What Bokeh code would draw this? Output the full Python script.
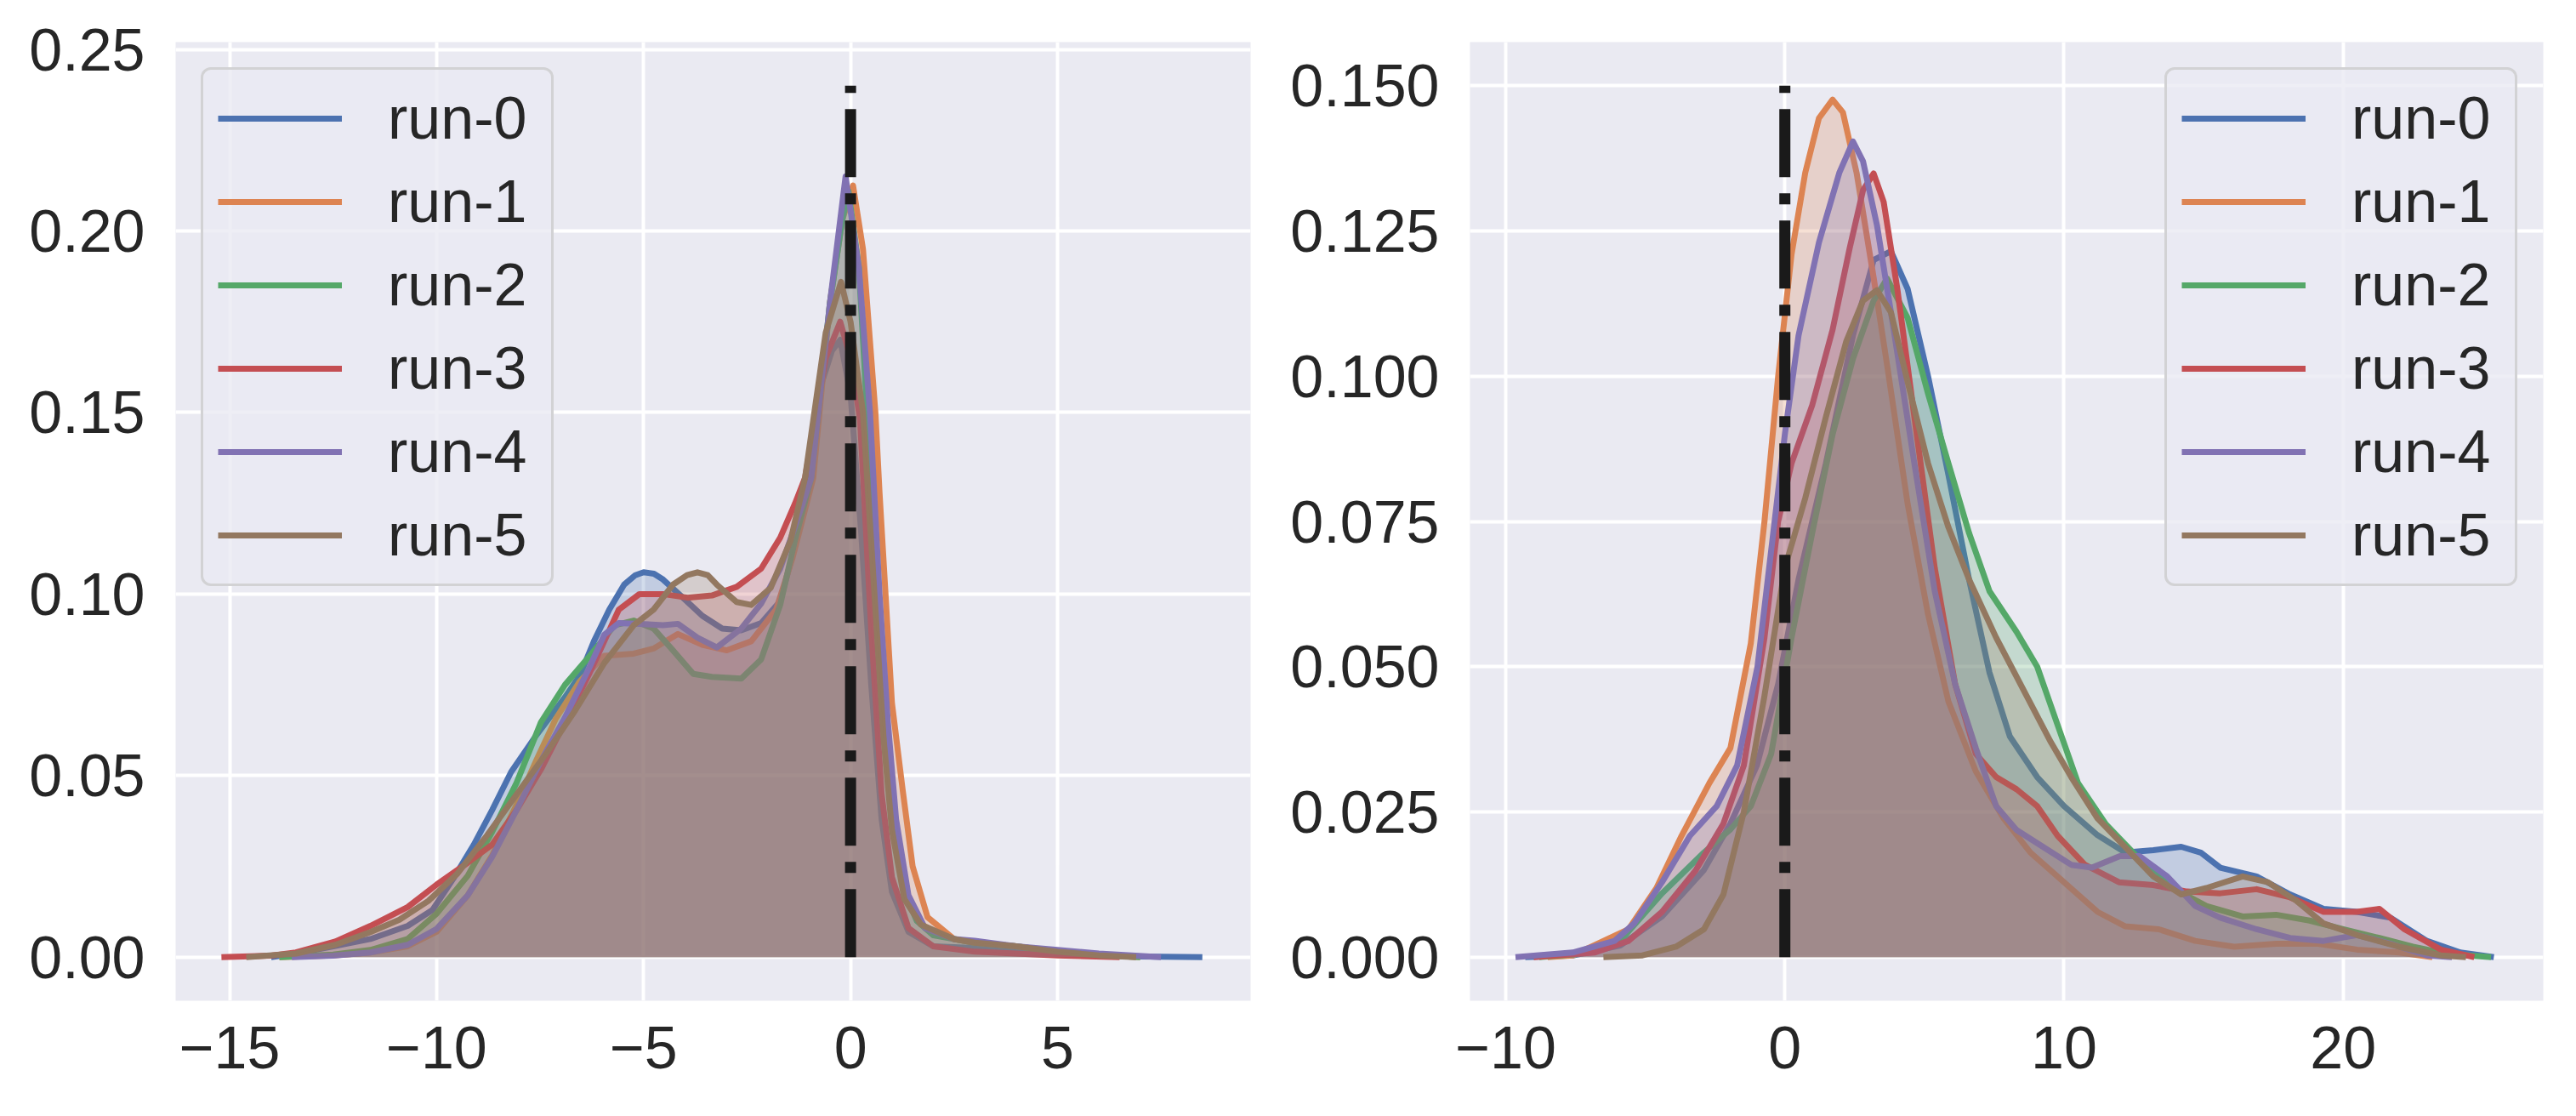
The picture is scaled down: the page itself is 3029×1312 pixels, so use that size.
from bokeh.plotting import figure
from bokeh.layouts import row
from bokeh.models import Range1d, FixedTicker, Legend, LegendItem
from bokeh.embed import file_html
from bokeh.resources import INLINE

# ---------------- data ----------------
LABELS = ["run-0", "run-1", "run-2", "run-3", "run-4", "run-5"]
COLORS = ["#4C72B0", "#DD8452", "#55A868", "#C44E52", "#8172B3", "#937860"]

# left panel
L0_X = [-14.0, -13.5, -12.5, -11.6, -10.7, -10.1, -9.6, -9.1, -8.66, -8.2, -7.6, -6.9, -6.54, -6.2, -5.83, -5.47, -5.2, -5.0, -4.75, -4.53, -4.05, -3.58, -3.1, -2.64, -2.16, -1.7, -1.3, -1.05, -0.7, -0.45, -0.25, 0.0, 0.25, 0.5, 0.75, 1.0, 1.4, 2.0, 3.0, 4.0, 5.0, 6.0, 7.0, 8.5]
L0_Y = [0.0, 0.0008, 0.003, 0.005, 0.0086, 0.013, 0.0216, 0.031, 0.0405, 0.051, 0.061, 0.0716, 0.0776, 0.087, 0.0957, 0.1026, 0.1052, 0.106, 0.1056, 0.104, 0.099, 0.094, 0.0905, 0.090, 0.092, 0.098, 0.115, 0.132, 0.158, 0.167, 0.170, 0.155, 0.118, 0.075, 0.038, 0.018, 0.007, 0.003, 0.0025, 0.0015, 0.001, 0.0006, 0.0002, 0.0]
L1_X = [-13.8, -12.5, -11.6, -10.7, -10.0, -9.25, -8.66, -8.07, -7.6, -7.13, -6.54, -5.95, -5.24, -4.76, -4.17, -3.58, -2.99, -2.4, -1.8, -1.4, -0.9, -0.5, -0.2, 0.06, 0.3, 0.6, 0.7, 1.0, 1.26, 1.5, 1.86, 2.5, 3.0, 4.0, 5.0, 6.0, 7.0]
L1_Y = [0.0, 0.0005, 0.0013, 0.003, 0.007, 0.017, 0.028, 0.042, 0.054, 0.0655, 0.076, 0.083, 0.0836, 0.085, 0.089, 0.086, 0.0845, 0.087, 0.0957, 0.110, 0.132, 0.180, 0.203, 0.2125, 0.195, 0.150, 0.128, 0.07, 0.046, 0.025, 0.011, 0.005, 0.004, 0.003, 0.0015, 0.0006, 0.0]
L2_X = [-13.8, -12.5, -11.6, -10.7, -10.0, -9.25, -8.66, -8.07, -7.48, -6.9, -6.3, -5.7, -5.24, -4.76, -4.29, -3.8, -3.35, -2.64, -2.16, -1.7, -1.34, -0.95, -0.5, -0.2, -0.05, 0.2, 0.4, 0.6, 0.8, 1.0, 1.3, 1.6, 2.0, 3.0, 4.0, 5.0, 6.0, 7.0]
L2_Y = [0.0, 0.0007, 0.002, 0.005, 0.012, 0.0224, 0.0345, 0.048, 0.0647, 0.075, 0.083, 0.0914, 0.0927, 0.0905, 0.0845, 0.078, 0.0772, 0.0767, 0.082, 0.097, 0.115, 0.132, 0.180, 0.203, 0.211, 0.19, 0.15, 0.105, 0.065, 0.038, 0.018, 0.01, 0.006, 0.004, 0.003, 0.0015, 0.0006, 0.0]
L3_X = [-15.2, -14.0, -13.4, -12.45, -11.6, -10.7, -10.0, -9.25, -8.66, -8.07, -7.48, -6.9, -6.3, -5.95, -5.6, -5.1, -4.53, -3.94, -3.35, -2.75, -2.16, -1.7, -1.34, -1.1, -0.6, -0.25, 0.0, 0.23, 0.5, 0.75, 1.0, 1.4, 2.0, 3.0, 4.0, 5.0, 6.5]
L3_Y = [0.0, 0.0004, 0.0013, 0.0043, 0.0086, 0.0138, 0.02, 0.026, 0.031, 0.0405, 0.0517, 0.0647, 0.0784, 0.087, 0.0957, 0.1, 0.1, 0.099, 0.0996, 0.102, 0.107, 0.1155, 0.125, 0.132, 0.165, 0.175, 0.165, 0.148, 0.09, 0.045, 0.022, 0.008, 0.003, 0.0015, 0.001, 0.0005, 0.0]
L4_X = [-13.5, -12.5, -11.6, -10.7, -10.0, -9.25, -8.66, -8.07, -7.48, -6.9, -6.3, -5.95, -5.6, -5.1, -4.53, -4.17, -3.7, -3.23, -2.64, -2.16, -1.7, -1.3, -0.95, -0.5, -0.12, 0.2, 0.47, 0.7, 0.9, 1.1, 1.4, 1.8, 2.5, 3.0, 4.0, 5.0, 6.0, 7.5]
L4_Y = [0.0, 0.0004, 0.0013, 0.0034, 0.0078, 0.017, 0.0276, 0.0405, 0.054, 0.066, 0.080, 0.0888, 0.092, 0.0918, 0.0914, 0.0918, 0.088, 0.0853, 0.0905, 0.0974, 0.107, 0.12, 0.132, 0.180, 0.215, 0.19, 0.15, 0.10, 0.065, 0.038, 0.017, 0.008, 0.005, 0.0045, 0.003, 0.002, 0.001, 0.0]
L5_X = [-14.6, -13.4, -12.45, -11.6, -10.9, -10.2, -9.5, -8.78, -8.07, -7.36, -6.65, -5.95, -5.24, -4.76, -4.29, -3.95, -3.7, -3.45, -3.23, -2.75, -2.4, -1.93, -1.45, -1.1, -0.6, -0.23, 0.0, 0.3, 0.55, 0.8, 1.0, 1.3, 1.7, 2.5, 3.0, 4.0, 5.0, 6.0, 6.9]
L5_Y = [0.0, 0.001, 0.0034, 0.0069, 0.0103, 0.0155, 0.023, 0.0336, 0.0448, 0.056, 0.068, 0.081, 0.0914, 0.0957, 0.1026, 0.1052, 0.106, 0.1052, 0.1026, 0.0978, 0.097, 0.1017, 0.1147, 0.132, 0.172, 0.186, 0.175, 0.15, 0.105, 0.06, 0.035, 0.016, 0.009, 0.005, 0.004, 0.003, 0.0015, 0.0005, 0.0]

# right panel
R0_X = [-9.3, -7.6, -5.9, -4.4, -2.9, -1.95, -1.0, -0.24, 0.49, 1.47, 2.44, 3.18, 3.8, 4.4, 5.13, 5.86, 6.6, 7.33, 8.06, 9.04, 10.0, 11.2, 12.2, 13.2, 14.2, 14.9, 15.6, 16.9, 18.1, 19.3, 20.5, 21.7, 23.0, 24.2, 25.4]
R0_Y = [0.0, 0.0003, 0.002, 0.007, 0.015, 0.023, 0.033, 0.047, 0.065, 0.085, 0.107, 0.120, 0.1215, 0.115, 0.100, 0.083, 0.065, 0.049, 0.038, 0.031, 0.026, 0.021, 0.018, 0.0184, 0.019, 0.018, 0.0154, 0.0139, 0.0108, 0.0083, 0.0078, 0.0068, 0.0028, 0.0008, 0.0]
R1_X = [-8.5, -7.6, -5.6, -4.6, -3.7, -2.7, -1.95, -1.22, -0.73, -0.24, 0.24, 0.73, 1.22, 1.71, 2.08, 2.57, 3.18, 3.66, 4.4, 5.13, 5.86, 6.84, 7.82, 8.8, 10.0, 11.2, 12.2, 13.4, 14.7, 16.1, 17.6, 19.1, 20.5, 22.0, 23.2]
R1_Y = [0.0, 0.0003, 0.0048, 0.0119, 0.0209, 0.030, 0.036, 0.054, 0.075, 0.100, 0.121, 0.135, 0.1444, 0.1476, 0.1454, 0.135, 0.117, 0.102, 0.078, 0.059, 0.044, 0.032, 0.024, 0.018, 0.0129, 0.0078, 0.0053, 0.0048, 0.0028, 0.0018, 0.0023, 0.0023, 0.0013, 0.0008, 0.0]
R2_X = [-8.8, -7.5, -5.9, -4.4, -2.9, -1.95, -1.22, -0.49, 0.24, 0.98, 1.71, 2.44, 3.18, 3.66, 4.4, 5.13, 5.86, 6.6, 7.33, 8.3, 9.04, 9.77, 10.5, 11.5, 12.7, 13.9, 15.1, 16.4, 17.6, 18.8, 20.0, 21.3, 22.5, 23.7, 25.3]
R2_Y = [0.0, 0.0005, 0.0028, 0.011, 0.018, 0.022, 0.026, 0.035, 0.055, 0.073, 0.090, 0.103, 0.113, 0.1168, 0.110, 0.097, 0.085, 0.073, 0.063, 0.056, 0.050, 0.040, 0.030, 0.0229, 0.0169, 0.0119, 0.0088, 0.007, 0.0073, 0.0063, 0.0048, 0.0033, 0.0018, 0.0006, 0.0]
R3_X = [-9.0, -6.8, -5.6, -4.4, -3.2, -2.2, -1.47, -0.73, -0.24, 0.24, 0.98, 1.71, 2.32, 2.8, 3.18, 3.54, 4.03, 4.64, 5.37, 6.1, 6.84, 7.57, 8.3, 9.04, 9.77, 10.75, 11.97, 13.2, 14.4, 15.6, 16.9, 18.1, 19.3, 20.5, 21.3, 22.2, 23.5, 24.7]
R3_Y = [0.0, 0.0008, 0.0028, 0.0078, 0.0149, 0.023, 0.033, 0.055, 0.075, 0.085, 0.095, 0.108, 0.122, 0.132, 0.1349, 0.130, 0.115, 0.093, 0.067, 0.047, 0.035, 0.031, 0.0289, 0.026, 0.0209, 0.0159, 0.0129, 0.0124, 0.0113, 0.011, 0.0117, 0.0103, 0.0078, 0.0078, 0.0083, 0.0048, 0.0013, 0.0]
R4_X = [-9.65, -7.6, -6.1, -5.4, -4.4, -3.4, -2.44, -1.71, -0.98, -0.49, 0.0, 0.49, 1.22, 1.95, 2.44, 2.8, 3.3, 3.9, 4.64, 5.37, 6.1, 6.84, 7.57, 8.3, 9.28, 10.26, 11.0, 12.0, 12.7, 13.7, 14.7, 15.6, 16.9, 18.1, 19.3, 20.5, 21.7, 23.0, 23.9]
R4_Y = [0.0, 0.0008, 0.0028, 0.0058, 0.0129, 0.0209, 0.026, 0.033, 0.050, 0.070, 0.090, 0.107, 0.123, 0.135, 0.1404, 0.137, 0.126, 0.108, 0.085, 0.063, 0.047, 0.036, 0.026, 0.0219, 0.0189, 0.0159, 0.0154, 0.0174, 0.0174, 0.0139, 0.0088, 0.0068, 0.0048, 0.0033, 0.0028, 0.0038, 0.0023, 0.0003, 0.0]
R5_X = [-6.5, -5.1, -3.9, -2.9, -2.2, -1.47, -0.73, 0.0, 0.73, 1.47, 2.2, 2.8, 3.3, 3.8, 4.4, 5.13, 5.86, 6.6, 7.57, 8.55, 9.53, 10.26, 11.2, 12.2, 13.2, 14.2, 15.1, 16.4, 17.3, 18.3, 19.3, 20.5, 22.0, 23.5, 24.4]
R5_Y = [0.0, 0.0003, 0.0018, 0.0048, 0.0108, 0.025, 0.045, 0.067, 0.079, 0.093, 0.106, 0.113, 0.1148, 0.111, 0.099, 0.085, 0.074, 0.065, 0.055, 0.046, 0.037, 0.031, 0.0239, 0.0189, 0.0139, 0.0108, 0.0119, 0.0139, 0.0129, 0.0098, 0.0058, 0.0038, 0.0018, 0.0003, 0.0]

VLINE_X = 0
VLINE_TOP_LEFT = 0.24
VLINE_TOP_RIGHT = 0.15

LEFT_XTICKS = [-15, -10, -5, 0, 5]
LEFT_XLABELS = ["\u221215", "\u221210", "\u22125", "0", "5"]
LEFT_YTICKS = [0.0, 0.05, 0.10, 0.15, 0.20, 0.25]
LEFT_YLABELS = ["0.00", "0.05", "0.10", "0.15", "0.20", "0.25"]
RIGHT_XTICKS = [-10, 0, 10, 20]
RIGHT_XLABELS = ["\u221210", "0", "10", "20"]
RIGHT_YTICKS = [0.0, 0.025, 0.05, 0.075, 0.10, 0.125, 0.15]
RIGHT_YLABELS = ["0.000", "0.025", "0.050", "0.075", "0.100", "0.125", "0.150"]

FONT = "Liberation Sans"
TXT = "#262626"
BG = "#EAEAF2"


def make_panel(xs, ys, xr, yr, vtop, xticks, xlabels, yticks, ylabels,
               legend_loc, width, bl, br):
    p = figure(width=width, height=1296, output_backend="svg",
               toolbar_location=None, x_range=Range1d(*xr), y_range=Range1d(*yr),
               min_border_left=bl, min_border_right=br,
               min_border_top=49, min_border_bottom=120)
    p.background_fill_color = BG
    p.border_fill_color = "white"
    p.outline_line_color = None
    for ax, ticks, labels in ((p.xaxis[0], xticks, xlabels), (p.yaxis[0], yticks, ylabels)):
        ax.ticker = FixedTicker(ticks=ticks)
        ax.major_label_overrides = {t: l for t, l in zip(ticks, labels)}
        ax.axis_line_color = None
        ax.major_tick_line_color = None
        ax.minor_tick_line_color = None
        ax.major_tick_out = 0
        ax.major_tick_in = 0
        ax.major_label_text_font = FONT
        ax.major_label_text_font_size = "70px"
        ax.major_label_text_color = TXT
    p.xaxis.major_label_standoff = 30
    p.yaxis.major_label_standoff = 36
    p.grid.grid_line_color = "white"
    p.grid.grid_line_width = 4
    p.xgrid.ticker = FixedTicker(ticks=xticks)
    p.ygrid.ticker = FixedTicker(ticks=yticks)

    items = []
    for lab, col, x, y in zip(LABELS, COLORS, xs, ys):
        r = p.line(x, y, line_color=col, line_width=7, line_join="round")
        p.varea(x=x, y1=[0] * len(x), y2=y, fill_color=col, fill_alpha=0.25)
        items.append(LegendItem(label=lab, renderers=[r]))

    p.line([VLINE_X, VLINE_X], [0, vtop], line_color="#1a1a1a", line_width=13,
           line_dash="80 19 13 19", line_cap="butt")

    leg = Legend(items=items, location=legend_loc)
    leg.label_text_font = FONT
    leg.label_text_font_size = "70px"
    leg.label_text_color = TXT
    leg.glyph_width = 146
    leg.glyph_height = 70
    leg.label_height = 70
    leg.label_width = 175
    leg.label_standoff = 54
    leg.spacing = 18
    leg.padding = 17
    leg.margin = 30
    leg.background_fill_color = BG
    leg.background_fill_alpha = 0.8
    leg.border_line_color = "#CCCCCC"
    leg.border_line_alpha = 0.8
    leg.border_line_width = 3.5
    try:
        leg.border_radius = 12
    except Exception:
        pass
    p.add_layout(leg)
    return p


p1 = make_panel([L0_X, L1_X, L2_X, L3_X, L4_X, L5_X],
                [L0_Y, L1_Y, L2_Y, L3_Y, L4_Y, L5_Y],
                (-16.307, 9.665), (-0.012, 0.252), VLINE_TOP_LEFT,
                LEFT_XTICKS, LEFT_XLABELS, LEFT_YTICKS, LEFT_YLABELS,
                "top_left", 1488, 206, 18)
p2 = make_panel([R0_X, R1_X, R2_X, R3_X, R4_X, R5_X],
                [R0_Y, R1_Y, R2_Y, R3_Y, R4_Y, R5_Y],
                (-11.28, 27.17), (-0.0075, 0.1575), VLINE_TOP_RIGHT,
                RIGHT_XTICKS, RIGHT_XLABELS, RIGHT_YTICKS, RIGHT_YLABELS,
                "top_right", 1520, 240, 18)

layout = row(p1, p2)
open("out.html", "w").write(file_html(layout, INLINE))
